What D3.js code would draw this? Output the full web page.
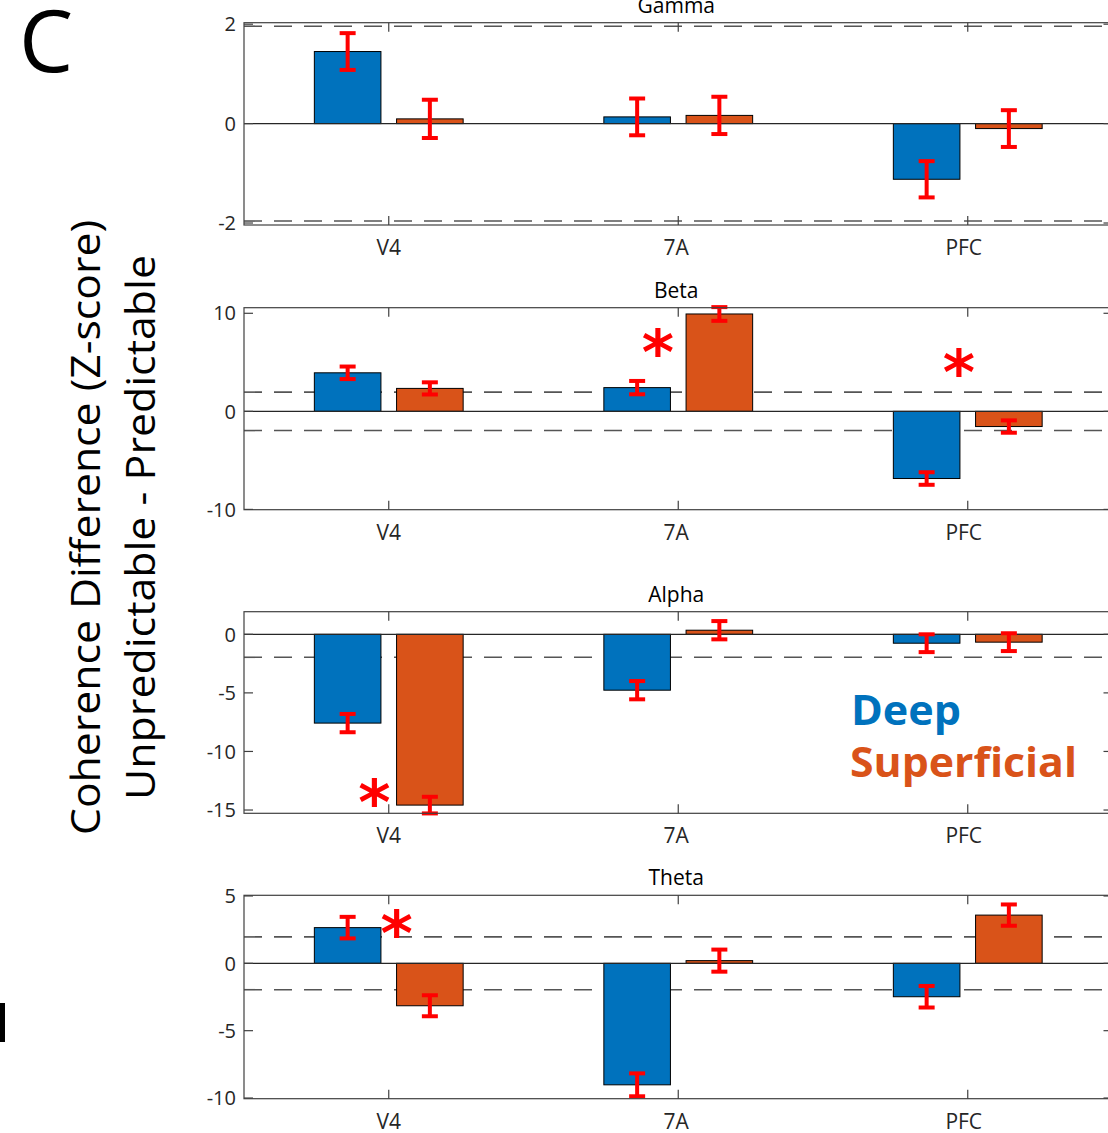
<!DOCTYPE html>
<html>
<head>
<meta charset="utf-8">
<script src="https://cdn.jsdelivr.net/npm/d3@7"></script>
<style>
  body { margin: 0; background: #fff; }
  svg { display: block; }
</style>
</head>
<body>
<svg id="chart" width="1108" height="1133"></svg>
<script>
// ---- data ----
const regions = ['V4', '7A', 'PFC'];
const bands = ['Gamma', 'Beta', 'Alpha', 'Theta'];

const deepValues = [[1.45, 0.135, -1.12], [3.93, 2.42, -6.85], [-7.58, -4.77, -0.76], [2.65, -9.02, -2.48]];
const deepErrors = [[0.37, 0.37, 0.365], [0.64, 0.68, 0.64], [0.78, 0.78, 0.76], [0.8, 0.85, 0.8]];
const superValues = [[0.095, 0.165, -0.1], [2.34, 9.93, -1.55], [-14.58, 0.35, -0.67], [-3.15, 0.2, 3.58]];
const superErrors = [[0.385, 0.375, 0.37], [0.62, 0.7, 0.63], [0.71, 0.78, 0.76], [0.78, 0.82, 0.79]];

const yLimits = [[-2.04, 2.03], [-10.03, 10.57], [-15.28, 1.93], [-10.05, 5.05]];
const yTicks = [[-2, 0, 2], [-10, 0, 10], [-15, -10, -5, 0], [-10, -5, 0, 5]];
const zCrit = 1.96;

// significance stars: band index, position on category axis, value
const stars = [
  { band: 1, x: 1.93, y: 7.09 },
  { band: 1, x: 2.97, y: 4.97 },
  { band: 2, x: 0.951, y: -13.44 },
  { band: 3, x: 1.028, y: 2.98 }
];

const seriesNames = ['Deep', 'Superficial'];
const seriesColors = ['#0072BD', '#D95319'];

// ---- layout ----
const font = '"Open Sans", sans-serif';
const starFont = '"DejaVu Sans", sans-serif';
const axisLeft = 244;
const axisRight = 1112.5;
const panelTop = [22.7, 307.7, 611.7, 895.3];
const panelBottom = [225, 509.7, 813.3, 1098.7];
const barOffset = 0.142;
const barWidth = 0.23;
const tickLen = 9;
const axisColor = '#404040';

const svg = d3.select('#chart');

const x = d3.scaleLinear().domain([0.5, regions.length + 0.5]).range([axisLeft, axisRight]);

// canvas used to measure glyph ink, so the stars sit where they should
const measureCtx = document.createElement('canvas').getContext('2d');

const drawStar = (g, cx, cy, inkH) => {
  measureCtx.font = `bold 100px ${starFont}`;
  const m = measureCtx.measureText('*');
  const k = inkH / (m.actualBoundingBoxAscent + m.actualBoundingBoxDescent);
  const asc = m.actualBoundingBoxAscent * k;
  const desc = m.actualBoundingBoxDescent * k;
  const left = m.actualBoundingBoxLeft * k;
  const right = m.actualBoundingBoxRight * k;
  g.append('text')
    .attr('x', cx - (right - left) / 2)
    .attr('y', cy + (asc - desc) / 2)
    .attr('font-family', starFont)
    .attr('font-weight', 700)
    .attr('font-size', 100 * k)
    .attr('fill', '#ff0000')
    .text('*');
};

bands.forEach((band, i) => {
  const top = panelTop[i];
  const bottom = panelBottom[i];
  const y = d3.scaleLinear().domain(yLimits[i]).range([bottom, top]);
  const g = svg.append('g').attr('class', 'panel');

  // threshold lines at +/- 1.96
  [zCrit, -zCrit].forEach(v => {
    if (v < yLimits[i][0] || v > yLimits[i][1]) return;
    g.append('line')
      .attr('x1', axisLeft).attr('x2', axisRight)
      .attr('y1', y(v)).attr('y2', y(v))
      .attr('stroke', '#555')
      .attr('stroke-width', 1.6)
      .attr('stroke-dasharray', '18,12');
  });

  // bars
  const rows = [deepValues[i], superValues[i]];
  const errs = [deepErrors[i], superErrors[i]];
  rows.forEach((vals, s) => {
    const off = s === 0 ? -barOffset : barOffset;
    g.selectAll(null)
      .data(vals)
      .enter()
      .append('rect')
      .attr('x', (d, j) => x(j + 1 + off - barWidth / 2))
      .attr('width', x(barWidth) - x(0))
      .attr('y', d => y(Math.max(0, d)))
      .attr('height', d => Math.abs(y(d) - y(0)))
      .attr('fill', seriesColors[s])
      .attr('stroke', '#000')
      .attr('stroke-width', 1);
  });

  // zero baseline
  g.append('line')
    .attr('x1', axisLeft).attr('x2', axisRight)
    .attr('y1', y(0)).attr('y2', y(0))
    .attr('stroke', '#262626')
    .attr('stroke-width', 1.2);

  // error bars
  rows.forEach((vals, s) => {
    const off = s === 0 ? -barOffset : barOffset;
    vals.forEach((v, j) => {
      const cx = x(j + 1 + off);
      const e = errs[s][j];
      const eb = g.append('g').attr('stroke', '#ff0000').attr('stroke-width', 4);
      eb.append('line').attr('x1', cx).attr('x2', cx).attr('y1', y(v + e)).attr('y2', y(v - e));
      [v + e, v - e].forEach(c => {
        eb.append('line').attr('x1', cx - 8).attr('x2', cx + 8).attr('y1', y(c)).attr('y2', y(c));
      });
    });
  });

  // box
  g.append('rect')
    .attr('x', axisLeft).attr('y', top)
    .attr('width', axisRight - axisLeft).attr('height', bottom - top)
    .attr('fill', 'none')
    .attr('stroke', axisColor)
    .attr('stroke-width', 1.2);

  // y ticks (inward, both sides)
  yTicks[i].forEach(t => {
    g.append('line')
      .attr('x1', axisLeft).attr('x2', axisLeft + tickLen)
      .attr('y1', y(t)).attr('y2', y(t))
      .attr('stroke', axisColor).attr('stroke-width', 1.2);
    g.append('line')
      .attr('x1', axisRight).attr('x2', axisRight - tickLen)
      .attr('y1', y(t)).attr('y2', y(t))
      .attr('stroke', axisColor).attr('stroke-width', 1.2);
    g.append('text')
      .attr('x', axisLeft - 8)
      .attr('y', y(t))
      .attr('dy', '0.36em')
      .attr('text-anchor', 'end')
      .attr('font-family', font)
      .attr('font-size', 20)
      .attr('fill', '#262626')
      .text(t);
  });

  // x ticks (inward, top and bottom) and category labels
  regions.forEach((r, j) => {
    const cx = x(j + 1);
    g.append('line')
      .attr('x1', cx).attr('x2', cx)
      .attr('y1', bottom).attr('y2', bottom - tickLen)
      .attr('stroke', axisColor).attr('stroke-width', 1.2);
    g.append('line')
      .attr('x1', cx).attr('x2', cx)
      .attr('y1', top).attr('y2', top + tickLen)
      .attr('stroke', axisColor).attr('stroke-width', 1.2);
    g.append('text')
      .attr('x', cx - 2 * j)
      .attr('y', bottom + 30)
      .attr('text-anchor', 'middle')
      .attr('font-family', font)
      .attr('font-size', 21)
      .attr('fill', '#262626')
      .text(r);
  });

  // title
  g.append('text')
    .attr('x', (axisLeft + axisRight) / 2 - 2)
    .attr('y', top - 10)
    .attr('text-anchor', 'middle')
    .attr('font-family', font)
    .attr('font-size', 21)
    .attr('fill', '#000')
    .text(band);

  // stars for this band
  stars.filter(s => s.band === i).forEach(s => {
    drawStar(g, x(s.x), y(s.y), 29);
  });
});

// legend as coloured words
svg.append('text')
  .attr('x', 851).attr('y', 725)
  .attr('font-family', font).attr('font-weight', 700).attr('font-size', 42)
  .attr('textLength', 110).attr('lengthAdjust', 'spacingAndGlyphs')
  .attr('fill', seriesColors[0])
  .text(seriesNames[0]);
svg.append('text')
  .attr('x', 850).attr('y', 777)
  .attr('font-family', font).attr('font-weight', 700).attr('font-size', 42)
  .attr('textLength', 227).attr('lengthAdjust', 'spacingAndGlyphs')
  .attr('fill', seriesColors[1])
  .text(seriesNames[1]);

// shared y label, two lines
const yLabel = svg.append('g').attr('transform', 'translate(0,527.5) rotate(-90)');
yLabel.append('text')
  .attr('x', 0).attr('y', 100)
  .attr('text-anchor', 'middle')
  .attr('font-family', font).attr('font-size', 41)
  .attr('textLength', 615).attr('lengthAdjust', 'spacingAndGlyphs')
  .text('Coherence Difference (Z-score)');
yLabel.append('text')
  .attr('x', 0).attr('y', 155)
  .attr('text-anchor', 'middle')
  .attr('font-family', font).attr('font-size', 41)
  .attr('textLength', 545).attr('lengthAdjust', 'spacingAndGlyphs')
  .text('Unpredictable - Predictable');

// panel letter
svg.append('text')
  .attr('x', 19).attr('y', 72)
  .attr('font-family', font).attr('font-size', 86)
  .text('C');

// sliver of the next panel's letter at the left edge
svg.append('rect')
  .attr('x', 0).attr('y', 1003)
  .attr('width', 5).attr('height', 39)
  .attr('fill', '#000');
</script>
</body>
</html>
